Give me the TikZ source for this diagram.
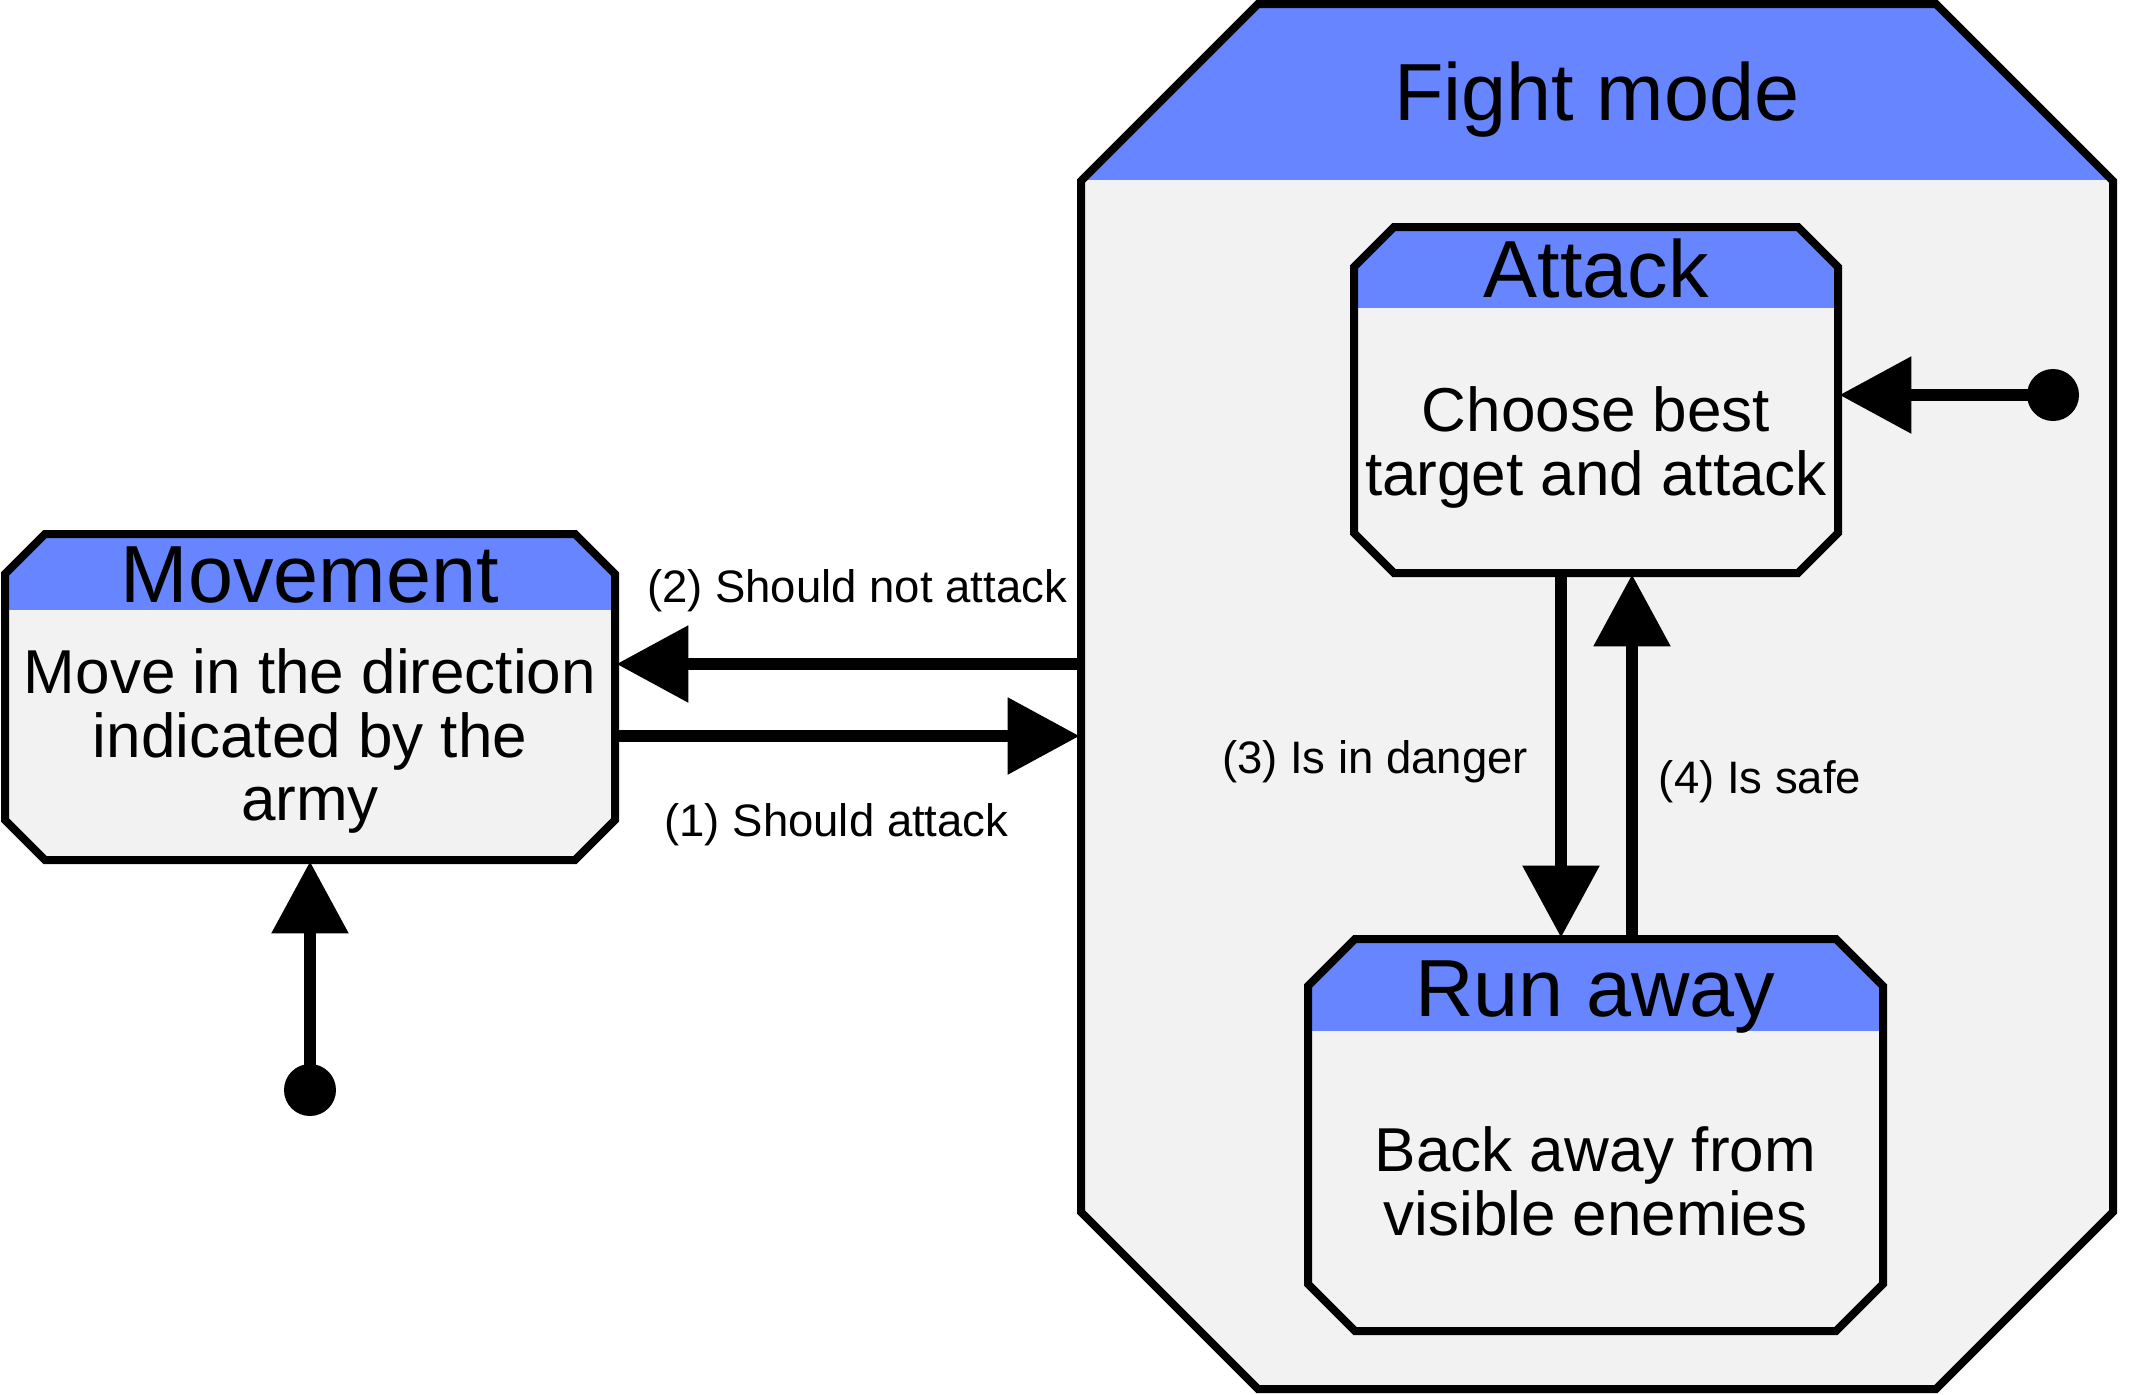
\documentclass[tikz,border=0pt]{standalone}
\usepackage{fontspec}
\setmainfont{Liberation Sans}
\usetikzlibrary{arrows.meta,calc,fit}
\definecolor{hdrblue}{RGB}{102,133,255}
\definecolor{bodygrey}{RGB}{242,242,242}
\newcommand{\drawOctBox}[6]{%
  \begin{scope}
    \clip (#1,#2+#5) -- (#1+#5,#2) -- (#3-#5,#2) -- (#3,#2+#5) -- (#3,#4-#5) -- (#3-#5,#4) -- (#1+#5,#4) -- (#1,#4-#5) -- cycle;
    \fill[bodygrey] (#1,#2) rectangle (#3,#4);
    \fill[hdrblue] (#1,#2) rectangle (#3,#6);
  \end{scope}
  \draw[frameline] (#1,#2+#5) -- (#1+#5,#2) -- (#3-#5,#2) -- (#3,#2+#5) -- (#3,#4-#5) -- (#3-#5,#4) -- (#1+#5,#4) -- (#1,#4-#5) -- cycle;
}
\tikzset{
  frameline/.style={line width=4pt, line join=miter, draw=black},
  boxarea/.style={inner sep=0pt, draw=none},
  conn/.style={line width=6.25pt, -{Triangle[length=36pt,width=37pt]}},
  startdot/.style={circle, fill=black, inner sep=0pt, minimum size=26pt},
  hdrtext/.style={font=\fontsize{40.5}{48}\selectfont, anchor=base, inner sep=0pt},
  bodytext/.style={font=\fontsize{31}{37}\selectfont, anchor=base, inner sep=0pt},
  lbltext/.style={font=\fontsize{22.75}{27}\selectfont, anchor=base, inner sep=0pt}
}
\begin{document}
\begin{tikzpicture}[x=0.5pt,y=-0.5pt]
\useasboundingbox (0,0) rectangle (2133,1394);
% boxes
\drawOctBox{1081}{4}{2113}{1389}{177}{180}
\drawOctBox{1354}{227}{1838}{573}{40}{308}
\drawOctBox{5}{534}{615}{860}{40}{610}
\drawOctBox{1308}{939}{1883}{1331}{47}{1031}
\node[boxarea, fit={(1081,4) (2113,1389)}] (fight) {};
\node[boxarea, fit={(1354,227) (1838,573)}] (attack) {};
\node[boxarea, fit={(5,534) (615,860)}] (move) {};
\node[boxarea, fit={(1308,939) (1883,1331)}] (run) {};
% start dots
\node[startdot] (s1) at (2053,395) {};
\node[startdot] (s2) at (310,1090) {};
% connectors
\draw[conn] (s1.center) -- ($(attack.east |- s1.center)+(1,0)$);
\draw[conn] (s2.center) -- ($(s2.center |- move.south)+(0,1)$);
\draw[conn] (fight.west |- 0,664) -- ($(move.east |- 0,664)+(1,0)$);
\draw[conn] (move.east |- 0,736) -- ($(fight.west |- 0,736)+(-1,0)$);
\draw[conn] (attack.south -| 1561,0) -- ($(run.north -| 1561,0)+(0,-1)$);
\draw[conn] (run.north -| 1632,0) -- ($(attack.south -| 1632,0)+(0,1)$);
% headers
\node[hdrtext] (hfight) at (1597,120) {Fight mode};
\node[hdrtext] (hattack) at (1596,297) {Attack};
\node[hdrtext] (hmove) at (310,602) {Movement};
\node[hdrtext] (hrun) at (1595.5,1016) {Run away};
% bodies
\node[bodytext] (ba1) at (1596,431) {Choose best};
\node[bodytext] (ba2) at (1596,495) {target and attack};
\node[bodytext] (bm1) at (310,693) {Move in the direction};
\node[bodytext] (bm2) at (310,757) {indicated by the};
\node[bodytext] (bm3) at (310,820) {army};
\node[bodytext] (br1) at (1595.5,1171) {Back away from};
\node[bodytext] (br2) at (1595.5,1235) {visible enemies};
% labels
\node[lbltext] (l2) at (857,602) {(2) Should not attack};
\node[lbltext] (l1) at (836.5,836) {(1) Should attack};
\node[lbltext] (l3) at (1375,773) {(3) Is in danger};
\node[lbltext] (l4) at (1760,793) {(4) Is safe};
\end{tikzpicture}
\end{document}
